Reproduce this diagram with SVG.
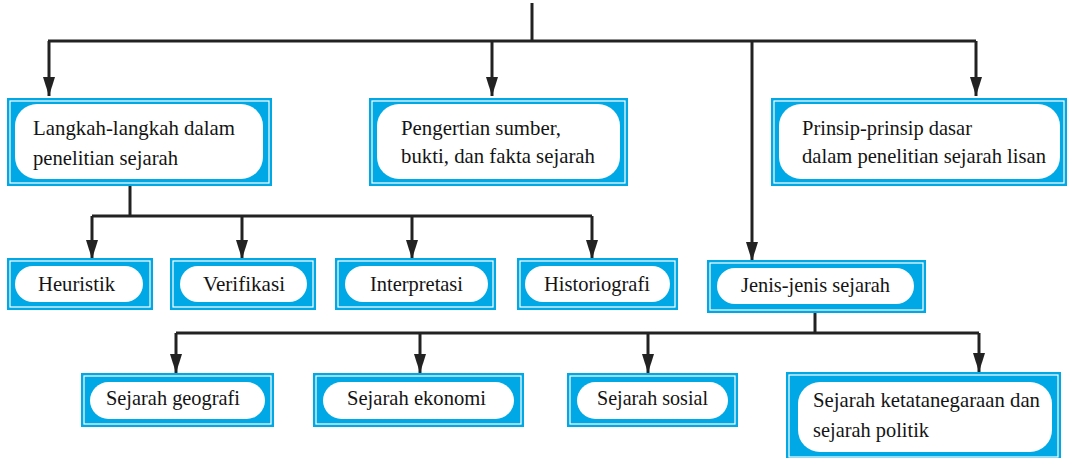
<svg xmlns="http://www.w3.org/2000/svg" width="1069" height="458" viewBox="0 0 1069 458">
<style>
.frame{fill:#00A9E6}
.rim{fill:none;stroke:#ffffff;stroke-width:1.2}
.pill{fill:#ffffff}
text{font-family:'Liberation Serif','DejaVu Serif',serif;font-size:21px;fill:#141414}
.c{text-anchor:middle}
.ln{fill:none;stroke:#222222;stroke-width:3}
</style>
<defs>
<marker id="ah" viewBox="0 0 19 12" refX="19" refY="6" markerWidth="19" markerHeight="12" markerUnits="userSpaceOnUse" orient="auto">
<path d="M0,0 L19,6 L0,12 Z" fill="#222222"/>
</marker>
</defs>
<rect width="1069" height="458" fill="#ffffff"/>
<g id="connectors">
<path class="ln" d="M532,3 V41"/>
<path class="ln" d="M48,41 H976"/>
<path class="ln" d="M49,41 V96" marker-end="url(#ah)"/>
<path class="ln" d="M492,41 V96" marker-end="url(#ah)"/>
<path class="ln" d="M976,41 V96" marker-end="url(#ah)"/>
<path class="ln" d="M752,41 V261" marker-end="url(#ah)"/>
<path class="ln" d="M130,186 V216"/>
<path class="ln" d="M92,216 H592"/>
<path class="ln" d="M92,216 V259" marker-end="url(#ah)"/>
<path class="ln" d="M242,216 V259" marker-end="url(#ah)"/>
<path class="ln" d="M412,216 V259" marker-end="url(#ah)"/>
<path class="ln" d="M592,216 V259" marker-end="url(#ah)"/>
<path class="ln" d="M815,313 V333"/>
<path class="ln" d="M176,333 H979"/>
<path class="ln" d="M176,333 V373" marker-end="url(#ah)"/>
<path class="ln" d="M420,333 V373" marker-end="url(#ah)"/>
<path class="ln" d="M648,333 V373" marker-end="url(#ah)"/>
<path class="ln" d="M979,333 V372" marker-end="url(#ah)"/>
</g>
<g id="n1">
<rect class="frame" x="7" y="98" width="265" height="88"/>
<rect class="rim" x="10" y="101" width="259" height="82"/>
<rect class="pill" x="15" y="104" width="248" height="75" rx="22"/>
<text x="33" y="135" textLength="202" lengthAdjust="spacingAndGlyphs">Langkah-langkah dalam</text>
<text x="33" y="165" textLength="145" lengthAdjust="spacingAndGlyphs">penelitian sejarah</text>
</g>
<g id="n2">
<rect class="frame" x="369" y="98" width="259" height="88"/>
<rect class="rim" x="372" y="101" width="253" height="82"/>
<rect class="pill" x="377" y="104" width="243" height="75" rx="22"/>
<text x="401" y="135" textLength="160" lengthAdjust="spacingAndGlyphs">Pengertian sumber,</text>
<text x="401" y="163" textLength="194" lengthAdjust="spacingAndGlyphs">bukti, dan fakta sejarah</text>
</g>
<g id="n3">
<rect class="frame" x="771" y="98" width="296" height="88"/>
<rect class="rim" x="774" y="101" width="290" height="82"/>
<rect class="pill" x="779" y="104" width="281" height="75" rx="22"/>
<text x="802" y="135" textLength="170" lengthAdjust="spacingAndGlyphs">Prinsip-prinsip dasar</text>
<text x="802" y="163" textLength="244" lengthAdjust="spacingAndGlyphs">dalam penelitian sejarah lisan</text>
</g>
<g id="n4">
<rect class="frame" x="7" y="258" width="146" height="52"/>
<rect class="rim" x="10" y="261" width="140" height="46"/>
<rect class="pill" x="15" y="266" width="128" height="36" rx="18"/>
<text x="38" y="291" textLength="77" lengthAdjust="spacingAndGlyphs">Heuristik</text>
</g>
<g id="n5">
<rect class="frame" x="170" y="258" width="146" height="52"/>
<rect class="rim" x="173" y="261" width="140" height="46"/>
<rect class="pill" x="180" y="266" width="127" height="36" rx="18"/>
<text x="203" y="291" textLength="82" lengthAdjust="spacingAndGlyphs">Verifikasi</text>
</g>
<g id="n6">
<rect class="frame" x="335" y="258" width="161" height="52"/>
<rect class="rim" x="338" y="261" width="155" height="46"/>
<rect class="pill" x="345" y="266" width="143" height="36" rx="18"/>
<text x="370" y="291" textLength="93" lengthAdjust="spacingAndGlyphs">Interpretasi</text>
</g>
<g id="n7">
<rect class="frame" x="517" y="258" width="161" height="52"/>
<rect class="rim" x="520" y="261" width="155" height="46"/>
<rect class="pill" x="525" y="266" width="145" height="36" rx="18"/>
<text x="544" y="291" textLength="106" lengthAdjust="spacingAndGlyphs">Historiografi</text>
</g>
<g id="n8">
<rect class="frame" x="707" y="260" width="219" height="53"/>
<rect class="rim" x="710" y="263" width="213" height="47"/>
<rect class="pill" x="717" y="268" width="197" height="36" rx="18"/>
<text x="741" y="292" textLength="149" lengthAdjust="spacingAndGlyphs">Jenis-jenis sejarah</text>
</g>
<g id="n9">
<rect class="frame" x="81" y="373" width="193" height="54"/>
<rect class="rim" x="84" y="376" width="187" height="48"/>
<rect class="pill" x="90" y="382" width="175" height="37" rx="18.5"/>
<text x="106" y="405" textLength="134" lengthAdjust="spacingAndGlyphs">Sejarah geografi</text>
</g>
<g id="n10">
<rect class="frame" x="313" y="373" width="211" height="54"/>
<rect class="rim" x="316" y="376" width="205" height="48"/>
<rect class="pill" x="323" y="382" width="191" height="37" rx="18.5"/>
<text x="347" y="405" textLength="139" lengthAdjust="spacingAndGlyphs">Sejarah ekonomi</text>
</g>
<g id="n11">
<rect class="frame" x="567" y="373" width="171" height="54"/>
<rect class="rim" x="570" y="376" width="165" height="48"/>
<rect class="pill" x="577" y="382" width="151" height="37" rx="18.5"/>
<text x="597" y="405" textLength="111" lengthAdjust="spacingAndGlyphs">Sejarah sosial</text>
</g>
<g id="n12">
<rect class="frame" x="786" y="372" width="275" height="88"/>
<rect class="rim" x="789" y="375" width="269" height="82"/>
<rect class="pill" x="798" y="382" width="254" height="70" rx="22"/>
<text x="813" y="407" textLength="227" lengthAdjust="spacingAndGlyphs">Sejarah ketatanegaraan dan</text>
<text x="813" y="437" textLength="116" lengthAdjust="spacingAndGlyphs">sejarah politik</text>
</g>
</svg>
